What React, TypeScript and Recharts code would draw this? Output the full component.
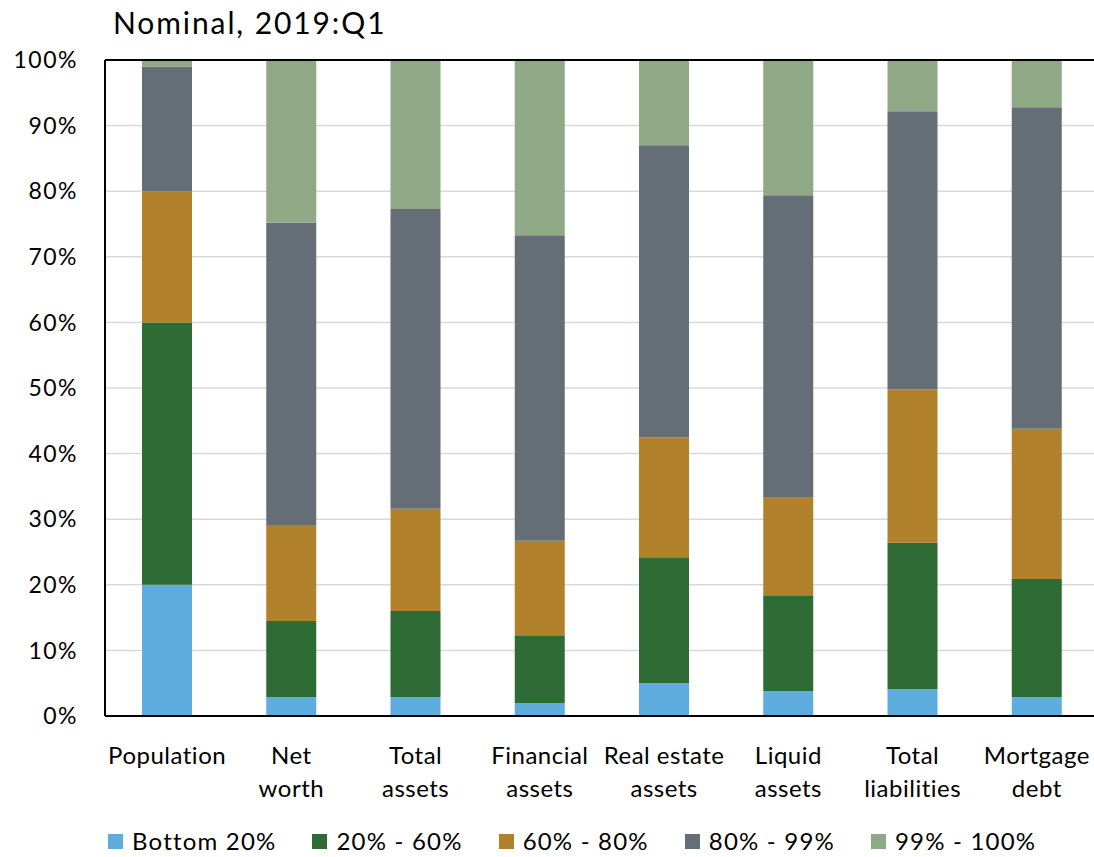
import { Bar, BarChart, CartesianGrid, ReferenceLine, XAxis, YAxis } from 'recharts';

const CATEGORIES = [
  'Population',
  'Net\nworth',
  'Total\nassets',
  'Financial\nassets',
  'Real estate\nassets',
  'Liquid\nassets',
  'Total\nliabilities',
  'Mortgage\ndebt',
];

const BOTTOM_20 = [20.0, 2.9, 2.9, 2.0, 5.0, 3.8, 4.1, 2.9];
const P20_60 = [40.0, 11.6, 13.1, 10.3, 19.2, 14.6, 22.3, 18.0];
const P60_80 = [20.0, 14.6, 15.6, 14.4, 18.3, 15.0, 23.4, 22.9];
const P80_99 = [19.0, 46.1, 45.7, 46.6, 44.5, 46.0, 42.4, 49.0];
const P99_100 = [1.0, 24.8, 22.7, 26.7, 13.0, 20.6, 7.8, 7.2];

const Y_TICKS = [0, 10, 20, 30, 40, 50, 60, 70, 80, 90, 100];

const SERIES = [
  { key: 'bottom20', name: 'Bottom 20%', color: '#5FADDF', values: BOTTOM_20 },
  { key: 'p20_60', name: '20% - 60%', color: '#2F6B35', values: P20_60 },
  { key: 'p60_80', name: '60% - 80%', color: '#B2812C', values: P60_80 },
  { key: 'p80_99', name: '80% - 99%', color: '#656D77', values: P80_99 },
  { key: 'p99_100', name: '99% - 100%', color: '#8FA986', values: P99_100 },
];

const FONT = 'Lato, "Open Sans", sans-serif';

const chartData = CATEGORIES.map((label, i) => {
  const row: Record<string, string | number> = { label };
  for (const s of SERIES) row[s.key] = s.values[i];
  return row;
});

interface TickProps {
  x?: number;
  y?: number;
  payload?: { value: string };
}

function CategoryTick({ x = 0, y = 0, payload }: TickProps) {
  const lines = (payload?.value ?? '').split('\n');
  return (
    <g>
      {lines.map((line, i) => (
        <text
          key={line}
          x={x}
          y={y + 46 + i * 33}
          textAnchor="middle"
          fontSize={24}
          letterSpacing={0.5}
          fontFamily={FONT}
          fill="#000"
        >
          {line}
        </text>
      ))}
    </g>
  );
}

export default function App() {
  return (
    <div
      style={{
        position: 'absolute',
        left: 0,
        top: 0,
        width: 1094,
        height: 857,
        overflow: 'hidden',
        background: '#fff',
        fontFamily: FONT,
      }}
    >
      <div
        style={{
          position: 'absolute',
          left: 113,
          top: 3,
          fontSize: 30,
          letterSpacing: 1.9,
          color: '#000',
          lineHeight: '38px',
        }}
      >
        Nominal, 2019:Q1
      </div>

      <BarChart
        width={1099}
        height={857}
        data={chartData}
        margin={{ top: 60, right: 0, left: 0, bottom: 0 }}
        barSize={50}
      >
        <CartesianGrid vertical={false} stroke="#D9D9D9" strokeWidth={1.5} />
        <XAxis
          dataKey="label"
          interval={0}
          height={141}
          tickLine={false}
          tickSize={0}
          axisLine={{ stroke: '#000', strokeWidth: 2 }}
          tick={<CategoryTick />}
        />
        <YAxis
          width={105}
          domain={[0, 100]}
          ticks={Y_TICKS}
          interval={0}
          tickLine={false}
          tickSize={0}
          tickMargin={27}
          tickFormatter={(v: number) => `${v}%`}
          axisLine={{ stroke: '#000', strokeWidth: 2 }}
          tick={{ fill: '#000', fontSize: 23, fontFamily: FONT, letterSpacing: 1.5 }}
        />
        <ReferenceLine y={100} stroke="#000" strokeWidth={2} />
        {SERIES.map((s) => (
          <Bar
            key={s.key}
            dataKey={s.key}
            name={s.name}
            stackId="a"
            fill={s.color}
            isAnimationActive={false}
          />
        ))}
      </BarChart>

      <div
        style={{
          position: 'absolute',
          left: 108,
          top: 826,
          display: 'flex',
          alignItems: 'center',
          fontSize: 24,
          letterSpacing: 1.2,
          color: '#000',
          lineHeight: '30px',
        }}
      >
        {SERIES.map((s) => (
          <div
            key={s.key}
            style={{ display: 'flex', alignItems: 'center', marginRight: 36 }}
          >
            <span
              style={{
                display: 'inline-block',
                width: 15,
                height: 15,
                background: s.color,
                marginRight: 9,
              }}
            />
            <span>{s.name}</span>
          </div>
        ))}
      </div>
    </div>
  );
}
